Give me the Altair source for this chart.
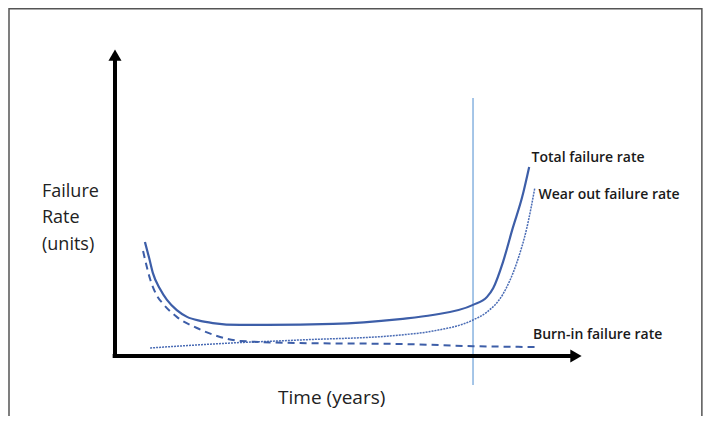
import altair as alt
import pandas as pd

# ---- data (time in years, failure rate in units) ----
total_t = [0.64, 0.73, 0.81, 0.96, 1.11, 1.32, 1.54, 1.82, 2.09, 2.67, 3.25, 4.66, 6.09, 6.79, 7.65, 7.95, 8.08, 8.29, 8.50, 8.70, 8.85]
total_r = [3.70, 3.18, 2.69, 2.18, 1.82, 1.49, 1.27, 1.14, 1.07, 1.01, 1.01, 1.04, 1.20, 1.33, 1.66, 1.92, 2.20, 3.05, 4.16, 5.16, 6.14]

burn_t = [0.60, 0.75, 0.90, 1.03, 1.32, 1.75, 2.18, 2.67, 3.95, 6.09, 7.65, 8.97]
burn_r = [3.41, 2.50, 1.95, 1.69, 1.27, 0.91, 0.65, 0.49, 0.42, 0.39, 0.32, 0.29]

wear_t = [0.75, 2.46, 3.95, 6.09, 6.79, 7.65, 7.95, 8.29, 8.59, 8.80, 8.97]
wear_r = [0.26, 0.42, 0.52, 0.68, 0.81, 1.17, 1.43, 2.01, 3.05, 4.16, 5.45]

label_text = ["Total failure rate", "Wear out failure rate", "Burn-in failure rate"]
label_t = [8.90, 9.05, 8.93]
label_r = [6.43, 5.23, 0.68]

ylab_lines = ["Failure", "Rate", "(units)"]
ylab_r = [5.32, 4.48, 3.60]
ylab_t = -1.56

xlab_text = "Time (years)"
xlab_t = 4.63
xlab_r = -1.36

marker_t = 7.65          # vertical reference line
marker_r = [8.38, -0.94]

# ---- scales (plot spans whole canvas) ----
XD = [-2.2863, 12.5641]
YD = [-1.948, 11.2987]
xs = alt.Scale(domain=XD, nice=False, zero=False)
ys = alt.Scale(domain=YD, nice=False, zero=False)

BLUE = "#3d5ea8"

def line_df(t, r):
    return pd.DataFrame({"t": t, "r": r})

def curve(df, **kw):
    return alt.Chart(df).mark_line(interpolate="monotone", **kw).encode(
        x=alt.X("t:Q", scale=xs, axis=None),
        y=alt.Y("r:Q", scale=ys, axis=None),
    )

# frame
frame = alt.Chart(pd.DataFrame({"a": [-2.265], "b": [12.54], "c": [11.272], "d": [-3.0]})).mark_rect(
    fill=None, stroke="#555555", strokeWidth=1.5
).encode(
    x=alt.X("a:Q", scale=xs, axis=None), x2="b:Q",
    y=alt.Y("c:Q", scale=ys, axis=None), y2="d:Q",
)

# axes with arrows
yaxis = alt.Chart(pd.DataFrame({"t": [0], "r": [-0.05], "r2": [9.7]})).mark_rule(
    color="black", strokeWidth=4
).encode(x=alt.X("t:Q", scale=xs, axis=None), y=alt.Y("r:Q", scale=ys, axis=None), y2="r2:Q")
xaxis = alt.Chart(pd.DataFrame({"t": [-0.05], "t2": [9.75], "r": [0]})).mark_rule(
    color="black", strokeWidth=4
).encode(x=alt.X("t:Q", scale=xs, axis=None), x2="t2:Q", y=alt.Y("r:Q", scale=ys, axis=None))
yarrow = alt.Chart(pd.DataFrame({"t": [0], "r": [9.77]})).mark_point(
    shape="triangle-up", filled=True, color="black", opacity=1, size=170
).encode(x=alt.X("t:Q", scale=xs, axis=None), y=alt.Y("r:Q", scale=ys, axis=None))
xarrow = alt.Chart(pd.DataFrame({"t": [9.85], "r": [0]})).mark_point(
    shape="triangle-right", filled=True, color="black", opacity=1, size=170
).encode(x=alt.X("t:Q", scale=xs, axis=None), y=alt.Y("r:Q", scale=ys, axis=None))

vline = alt.Chart(pd.DataFrame({"t": [marker_t], "r": [marker_r[0]], "r2": [marker_r[1]]})).mark_rule(
    color="#6a9fd8", strokeWidth=1.2
).encode(x=alt.X("t:Q", scale=xs, axis=None), y=alt.Y("r:Q", scale=ys, axis=None), y2="r2:Q")

total = curve(line_df(total_t, total_r), color=BLUE, strokeWidth=2.2)
burn = curve(line_df(burn_t, burn_r), color=BLUE, strokeWidth=2, strokeDash=[7, 5])
wear = curve(line_df(wear_t, wear_r), color="#4a6cb5", strokeWidth=1.5, strokeDash=[2, 1])

labels = alt.Chart(pd.DataFrame({"txt": label_text, "t": label_t, "r": label_r})).mark_text(
    align="left", baseline="middle", font="Open Sans", fontSize=14, fontWeight=600, color="#1a1a1a"
).encode(x=alt.X("t:Q", scale=xs, axis=None), y=alt.Y("r:Q", scale=ys, axis=None), text="txt:N")

ylab = alt.Chart(pd.DataFrame({"txt": ylab_lines, "t": [ylab_t] * 3, "r": ylab_r})).mark_text(
    align="left", baseline="middle", font="Open Sans", fontSize=18, color="#222222"
).encode(x=alt.X("t:Q", scale=xs, axis=None), y=alt.Y("r:Q", scale=ys, axis=None), text="txt:N")

xlab = alt.Chart(pd.DataFrame({"txt": [xlab_text], "t": [xlab_t], "r": [xlab_r]})).mark_text(
    align="center", baseline="middle", font="Open Sans", fontSize=19, color="#222222"
).encode(x=alt.X("t:Q", scale=xs, axis=None), y=alt.Y("r:Q", scale=ys, axis=None), text="txt:N")

chart = alt.layer(
    frame, vline, wear, burn, total, yaxis, xaxis, yarrow, xarrow, labels, ylab, xlab
).properties(
    width=695, height=408, padding=0, autosize=alt.AutoSizeParams(type="none"),
    background="white",
).configure_view(stroke=None)

chart.save("out.html", embed_options={"renderer": "svg", "actions": False})
